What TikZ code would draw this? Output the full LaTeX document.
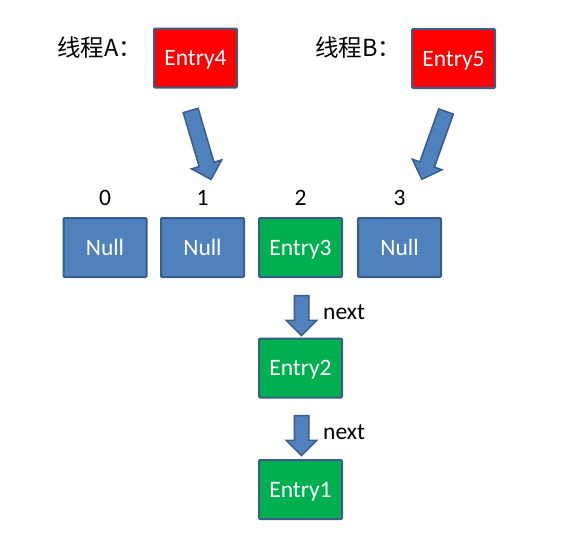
\documentclass[tikz,border=0pt]{standalone}
\usepackage{fontspec}
\setmainfont{Carlito}
\newfontfamily\cjk{Noto Sans CJK SC}
\usetikzlibrary{shapes.arrows}
\definecolor{boxblue}{HTML}{4F81BD}
\definecolor{boxline}{HTML}{385D8A}
\definecolor{boxgreen}{HTML}{00B050}
\definecolor{boxred}{HTML}{FF0000}
\tikzset{
  cell/.style={rectangle,draw=boxline,line width=2pt,rounded corners=1pt,minimum width=83pt,minimum height=59pt,inner sep=0pt,text height=15.5pt,text depth=0pt,text=white,font=\fontsize{23.5}{28}\selectfont},
  nullbox/.style={cell,fill=boxblue},
  entrybox/.style={cell,fill=boxgreen},
  newbox/.style={cell,fill=boxred},
  idx/.style={font=\fontsize{23.5}{28}\selectfont,inner sep=0pt},
  blockarrow/.style={single arrow,draw=boxline,fill=boxblue,line width=1.5pt,inner sep=0pt,inner ysep=#1,single arrow head extend=8pt,single arrow tip angle=90,sloped,allow upside down,midway},
  blockarrow/.default=7pt
}
\begin{document}
\begin{tikzpicture}[x=1pt,y=-1pt]
\useasboundingbox (0,0) rectangle (563,539);
% threads
\node[idx,anchor=west] (lblA) at (57,48) {\cjk 线程A：};
\node[newbox] (e4) at (195.5,58) {Entry4};
\node[idx,anchor=west] (lblB) at (315,48) {\cjk 线程B：};
\node[newbox] (e5) at (453.5,58.5) {Entry5};

% table
\node[nullbox] (n0) at (105,247.5) {Null};
\node[nullbox] (n1) at (202.5,247.5) {Null};
\node[entrybox] (e3) at (300.5,247.5) {Entry3};
\node[nullbox] (n3) at (399.5,247.5) {Null};
\node[idx] (i0) at (105,198) {0};
\node[idx] (i1) at (202.5,198) {1};
\node[idx] (i2) at (300.5,198) {2};
\node[idx] (i3) at (399.5,198) {3};

% chain
\node[entrybox] (e2) at (300.5,368) {Entry2};
\node[entrybox] (e1) at (300.5,489.5) {Entry1};

\coordinate (tA) at (189.5,106.5);
\coordinate (hA) at (210,176);
\coordinate (tB) at (447.5,107.5);
\coordinate (hB) at (423,176);
\path (tA) -- (hA) node[blockarrow,minimum height=72pt,minimum width=31pt] (arA) {};
\path (tB) -- (hB) node[blockarrow,minimum height=72pt,minimum width=31pt] (arB) {};

\coordinate (t1) at (301.5,292);
\coordinate (h1) at (301.5,332);
\coordinate (t2) at (301.5,412);
\coordinate (h2) at (301.5,452);
\path (t1) -- (h1) node[blockarrow=6.5pt,minimum height=40pt,minimum width=29pt] (ar1) {};
\path (t2) -- (h2) node[blockarrow=6.5pt,minimum height=40pt,minimum width=29pt] (ar2) {};
\node[idx,anchor=west] (nx1) at (323,312) {next};
\node[idx,anchor=west] (nx2) at (323,432) {next};
\end{tikzpicture}
\end{document}
